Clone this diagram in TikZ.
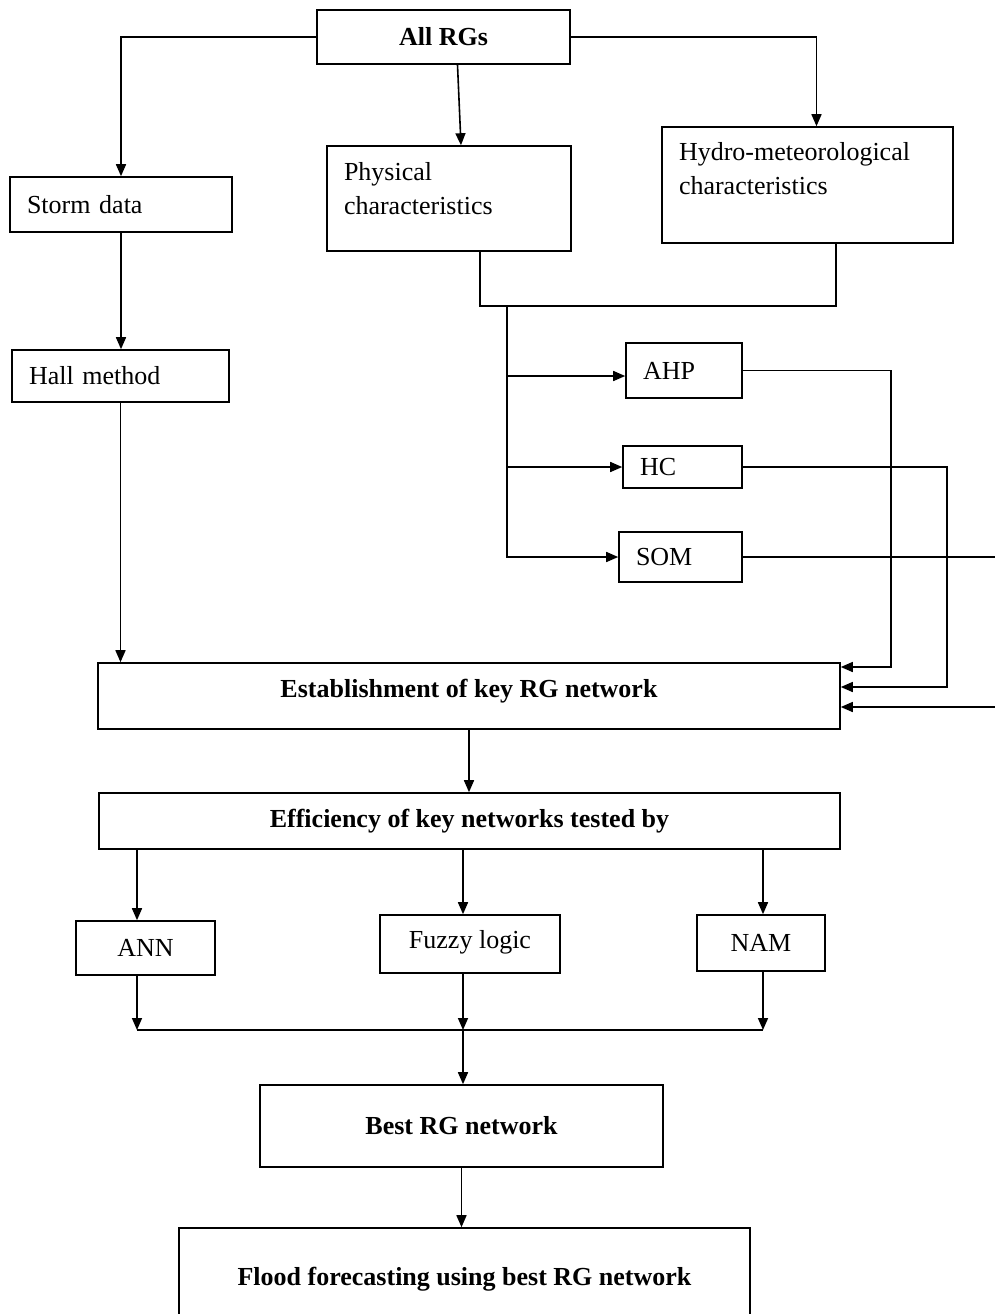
\documentclass[tikz,border=0pt]{standalone}
\usepackage{fontspec}
\setmainfont{Liberation Serif}
\usetikzlibrary{arrows.meta}

\begin{document}
\begin{tikzpicture}[
  x=0.5pt, y=-0.5pt,
  >={Triangle[length=6pt,width=5pt]},
  box/.style={draw, line width=0.8pt, inner sep=0pt, align=center, font=\fontsize{13}{17}\selectfont},
  bbox/.style={box, font=\fontsize{13}{17}\selectfont\bfseries},
  lbox/.style={draw, line width=0.8pt, inner ysep=0pt, inner xsep=8.5pt, align=left, font=\fontsize{13}{17}\selectfont},
  edge/.style={->, line width=0.8pt},
  wire/.style={line width=0.8pt}
]
  \useasboundingbox (0,0) rectangle (995,1314);

  % upper part
  \node[bbox, minimum width=126.5pt, minimum height=27pt] (allrg) at (443.5,37) {All RGs};
  \node[lbox, text width=94pt, minimum height=27.5pt] (storm) at (121,204.5) {Storm data};
  \node[lbox, text width=91.5pt, minimum height=26pt] (hall) at (120.5,376) {Hall method};
  \node[lbox, text width=105pt, minimum height=52.5pt] (phys) at (449,198.5) {Physical\\characteristics\\[-7pt] \mbox{}};
  \node[lbox, text width=128.5pt, minimum height=58pt] (hydro) at (807.5,185) {Hydro-meteorological\\characteristics\\ \mbox{}};

  \node[lbox, text width=41pt, minimum height=27.5pt] (ahp) at (684,370.5) {AHP};
  \node[lbox, text width=42.5pt, minimum height=21pt] (hc) at (682.5,467) {HC};
  \node[lbox, text width=44.5pt, minimum height=25pt] (som) at (680.5,557) {SOM};

  % lower part
  \node[bbox, minimum width=371pt, minimum height=33pt, text depth=8pt] (est) at (469,696) {Establishment of key RG network};
  \node[bbox, minimum width=370.5pt, minimum height=28pt] (eff) at (469.5,821) {Efficiency of key networks tested by};
  \node[box, minimum width=69.5pt, minimum height=27pt] (ann) at (145.5,948) {ANN};
  \node[box, minimum width=89.75pt, minimum height=29pt, text depth=5pt] (fuzzy) at (470,944) {Fuzzy logic};
  \node[box, minimum width=64pt, minimum height=28pt] (nam) at (761,943) {NAM};
  \node[bbox, minimum width=201.5pt, minimum height=41pt] (best) at (461.5,1126) {Best RG network};
  \node[bbox, minimum width=285.5pt, minimum height=51pt] (flood) at (464.5,1279) {Flood forecasting using best RG network};

  \coordinate (join) at (507,306);
  \coordinate (ahpin) at ([yshift=-2.75pt]ahp.west);
  \coordinate (ahpdown) at (891,667);
  \coordinate (hcdown) at (947,687);
  \coordinate (somout) at (1000,557);
  \coordinate (estin) at (1000,707);
  \coordinate (merge) at (463,1030);
  \coordinate (annx) at (137,0);
  \coordinate (fuzzyx) at (463,0);
  \coordinate (namx) at (763,0);

  \draw[edge] (allrg.west) -| (storm.north);
  \draw[edge] ([xshift=7pt]allrg.south) -- ([xshift=6pt]phys.north);
  \draw[edge] (allrg.east) -| ([xshift=4.5pt]hydro.north);
  \draw[edge] (storm.south) -- (storm.south |- hall.north);
  \draw[edge] (hall.south) -- (hall.south |- est.north);

  \draw[wire] ([xshift=15.5pt]phys.south) |- (join) -| ([xshift=14.25pt]hydro.south);
  \draw[edge] (join) |- (som.west);
  \draw[edge] (join |- ahpin) -- (ahpin);
  \draw[edge] (join |- hc.west) -- (hc.west);

  \draw[edge] (ahp.east) -| (ahpdown) -- (ahpdown -| est.east);
  \draw[edge] (hc.east) -| (hcdown) -- (hcdown -| est.east);
  \draw[wire] (som.east) -- (somout);
  \draw[edge] (estin) -- (estin -| est.east);

  \draw[edge] (est.south) -- (est.south |- eff.north);
  \draw[edge] (annx |- eff.south) -- (annx |- ann.north);
  \draw[edge] (fuzzyx |- eff.south) -- (fuzzyx |- fuzzy.north);
  \draw[edge] (namx |- eff.south) -- (namx |- nam.north);
  \draw[edge] (annx |- ann.south) -- (annx |- merge);
  \draw[edge] (fuzzyx |- fuzzy.south) -- (merge);
  \draw[edge] (namx |- nam.south) -- (namx |- merge);
  \draw[wire] (annx |- merge) -- (namx |- merge);
  \draw[edge] (merge) -- (merge |- best.north);
  \draw[edge] (best.south) -- (best.south |- flood.north);
\end{tikzpicture}
\end{document}
